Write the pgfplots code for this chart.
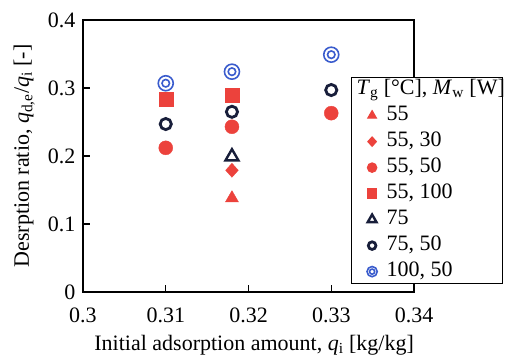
\documentclass[border=0pt]{standalone}
\usepackage{pgfplots}
\pgfplotsset{compat=1.18}
\usepackage{fontspec}
\setmainfont{Liberation Serif}
\definecolor{cred}{RGB}{236,66,60}
\definecolor{cnavy}{RGB}{24,30,58}
\definecolor{cblue}{RGB}{58,92,205}
\pgfdeclareplotmark{dcirc}{%
  \pgfpathcircle{\pgfpointorigin}{\pgfplotmarksize}\pgfusepathqstroke
  \pgfpathcircle{\pgfpointorigin}{0.5\pgfplotmarksize}\pgfusepathqstroke}
\begin{document}
\begin{tikzpicture}
\useasboundingbox (-83pt,-66pt) rectangle (422pt,292pt);
\begin{axis}[
  at={(0,0)}, anchor=south west,
  scale only axis, width=331pt, height=272pt,
  xmin=0.3, xmax=0.34, ymin=0, ymax=0.4,
  xtick={0.3,0.31,0.32,0.33,0.34}, ytick={0,0.1,0.2,0.3,0.4},
  tick align=inside, xtick pos=left, ytick pos=left,
  major tick length=7pt,
  axis line style={line width=1.4pt},
  xtick style={draw=black, line width=1.2pt},
  ytick style={draw=black, line width=1.2pt},
  font=\fontsize{22}{26}\selectfont,
  tick label style={font=\fontsize{22}{26}\selectfont, /pgf/number format/assume math mode=true, /pgf/number format/fixed, /pgf/number format/precision=2},
  xticklabel style={yshift=-12pt},
  yticklabel style={xshift=-4pt},
  xlabel={Initial adsorption amount, \textit{q}\textsubscript{i} [kg/kg]},
  ylabel={Desrption ratio, \textit{q}\textsubscript{d,e}/\textit{q}\textsubscript{i} [-]},
  xlabel style={at={(axis description cs:0.517,-0.195)}, anchor=center},
  ylabel style={at={(axis description cs:-0.178,0.5)}, anchor=center},
  clip=false,
  legend style={at={(rel axis cs:0.81,0.79)}, anchor=north west,
    draw=black, line width=1pt, font=\fontsize{22}{26}\selectfont,
    row sep=4pt, column sep=7pt, inner xsep=4pt, inner ysep=1pt,
    nodes={inner sep=1pt, text height=15pt, text depth=5pt},
    cells={anchor=west}, fill=white},
  legend cell align=left,
  legend image code/.code={%
    \path (0pt,-3pt) (22pt,3pt);
    \draw[#1,/tikz/every mark/.append style={scale=0.68}] plot coordinates {(16pt,0pt)};},
]
\addlegendimage{empty legend}
\addlegendentry{\makebox[111pt][l]{\hspace*{-30pt}\textit{T}\textsubscript{g} [°C], \textit{M}\textsubscript{w} [W]}}
\addplot[only marks, mark=triangle*, mark size=7.5pt, color=cred] coordinates {(0.318,0.138)};
\addlegendentry{55}
\addplot[only marks, mark=diamond*, mark size=7pt, color=cred, mark options={xscale=1.2}] coordinates {(0.318,0.179)};
\addlegendentry{55, 30}
\addplot[only marks, mark=*, mark size=7pt, color=cred] coordinates {(0.31,0.212) (0.318,0.243) (0.33,0.263)};
\addlegendentry{55, 50}
\addplot[only marks, mark=square*, mark size=7pt, color=cred] coordinates {(0.31,0.284) (0.318,0.290)};
\addlegendentry{55, 100}
\addplot[only marks, mark=triangle, mark size=7.5pt, color=cnavy, mark options={line width=2.4pt}] coordinates {(0.318,0.199)};
\addlegendentry{75}
\addplot[only marks, mark=o, mark size=5.6pt, color=cnavy, mark options={line width=2.8pt}] coordinates {(0.31,0.247) (0.318,0.265) (0.33,0.297)};
\addlegendentry{75, 50}
\addplot[only marks, mark=dcirc, mark size=7.5pt, color=cblue, mark options={line width=1.6pt}] coordinates {(0.31,0.307) (0.318,0.324) (0.33,0.349)};
\addlegendentry{100, 50}
\end{axis}
\end{tikzpicture}
\end{document}
